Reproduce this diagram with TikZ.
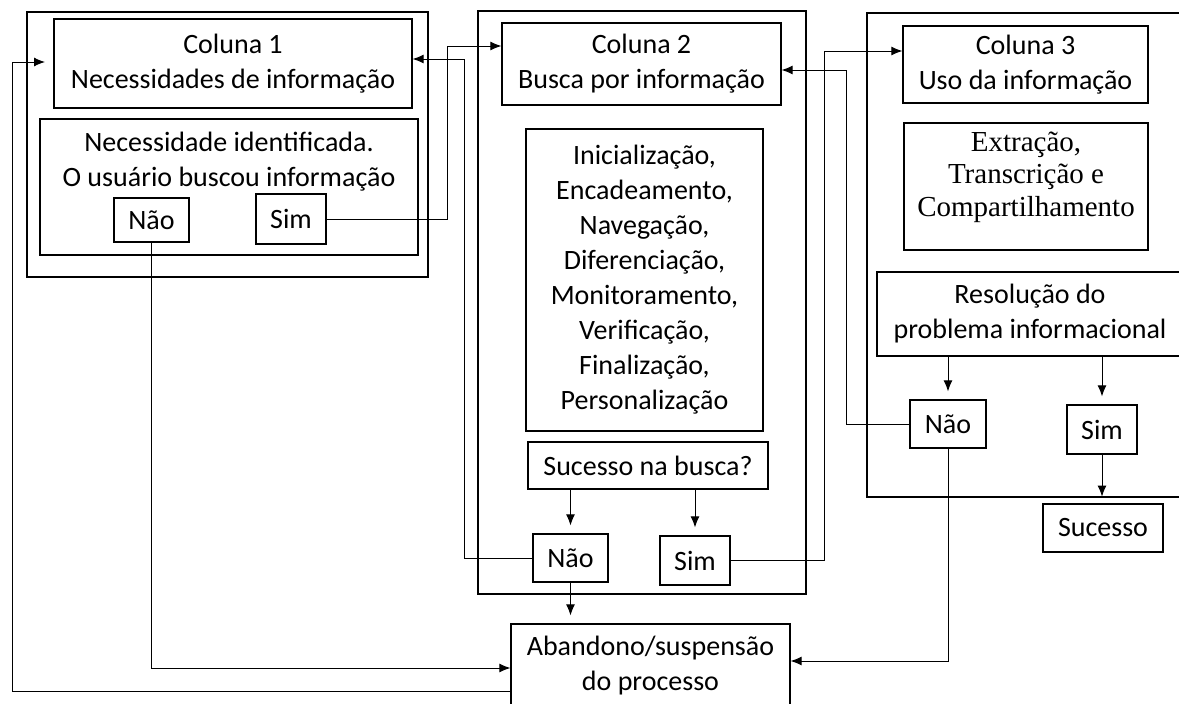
\documentclass[tikz,border=0pt]{standalone}
\usepackage{fontspec}
\setmainfont{Carlito}
\newfontfamily\timesfont{Liberation Serif}
\usetikzlibrary{arrows.meta}

\begin{document}
\begin{tikzpicture}[x=1pt,y=-1pt,font=\fontsize{28}{35}\selectfont,
  box/.style={draw,line width=1.2pt,inner sep=0pt,align=center},
  dim/.style 2 args={minimum width=#1pt,minimum height=#2pt},
  txt/.style={inner sep=0pt,align=center},
  arr/.style={-{Latex[length=11pt,width=9pt]},line width=1pt},
  gap/.style={arr,shorten >=8pt}]
              \useasboundingbox (0,0) rectangle (1179,704);
              % coluna 1
              \node[box,dim={401}{265}](col1)at(227.5,144.5){};
              \node[box,dim={358}{89}](c1title)at(233,63.5){Coluna 1\\Necessidades de informação};
              \node[box,dim={378}{136}](c1need)at(229,187){};
              \node[txt](c1needtxt)at(229,162){Necessidade identificada.\\O usuário buscou informação};
              \node[box,dim={75}{44}](c1no)at(151.5,220){Não};
              \node[box,dim={70}{50}](c1yes)at(291,219){Sim};
              % coluna 2
              \node[box,dim={328}{583}](col2)at(642,302.5){};
              \node[box,dim={279}{82}](c2title)at(641.5,64){Coluna 2\\Busca por informação};
              \node[box,dim={237}{302}](c2list)at(644.5,280){Inicialização,\\Encadeamento,\\Navegação,\\Diferenciação,\\Monitoramento,\\Verificação,\\Finalização,\\Personalização};
              \node[box,dim={240}{47}](c2ask)at(648,465.5){Sucesso na busca?};
              \node[box,dim={75}{48}](c2no)at(570.5,558){Não};
              \node[box,dim={70}{49}](c2yes)at(695,560.5){Sim};
              % coluna 3
              \node[box,dim={326}{484}](col3)at(1030,255){};
              \node[box,dim={245}{77}](c3title)at(1025.5,64.5){Coluna 3\\Uso da informação};
              \node[box,dim={244}{127}](c3use)at(1026,186.5){};
              \node[txt,font=\timesfont\fontsize{29}{32.5}\selectfont](c3usetxt)at(1026,177){Extração,\\Transcrição e\\Compartilhamento};
              \node[box,dim={306}{84}](c3res)at(1030,314){Resolução do\\problema informacional};
              \node[box,dim={76}{48}](c3no)at(948,424){Não};
              \node[box,dim={70}{49}](c3yes)at(1102,429.5){Sim};
              \node[box,dim={120}{48}](done)at(1103,528){Sucesso};
              % abandono
              \node[box,dim={279}{84}](quit)at(650.5,666){Abandono/suspensão\\do processo};
              \coordinate(c1in)at(45,62);
              % ligacoes
              \draw[arr](c1yes.east)-|(447,46)--([yshift=18pt]c2title.west);
              \draw[arr](c2no.west)-|(464,59)--([yshift=4.5pt]c1title.east);
              \draw[arr](c2yes.east)-|(824,51)--([yshift=13.5pt]c3title.west);
              \draw[arr](c3no.west)-|(846,70)--([yshift=-6pt]c2title.east);
              \draw[arr](c3no.south)|-([yshift=5pt]quit.east);
              \draw[arr](c1no.south)|-([yshift=-2pt]quit.west);
              \draw[arr]([yshift=-25pt]quit.west)-|(12,62)--(c1in);
              \draw[gap](c2no.south)--(c2no.south|-quit.north);
              \draw[gap](c2ask.south-|c2no.north)--(c2no.north);
              \draw[gap](c2ask.south-|c2yes.north)--(c2yes.north);
              \draw[gap](c3res.south-|c3no.north)--(c3no.north);
              \draw[gap](c3res.south-|c3yes.north)--(c3yes.north);
              \draw[arr,shorten >=1pt](c3yes.south)--(c3yes.south|-col3.south);
            \end{tikzpicture}
\end{document}
